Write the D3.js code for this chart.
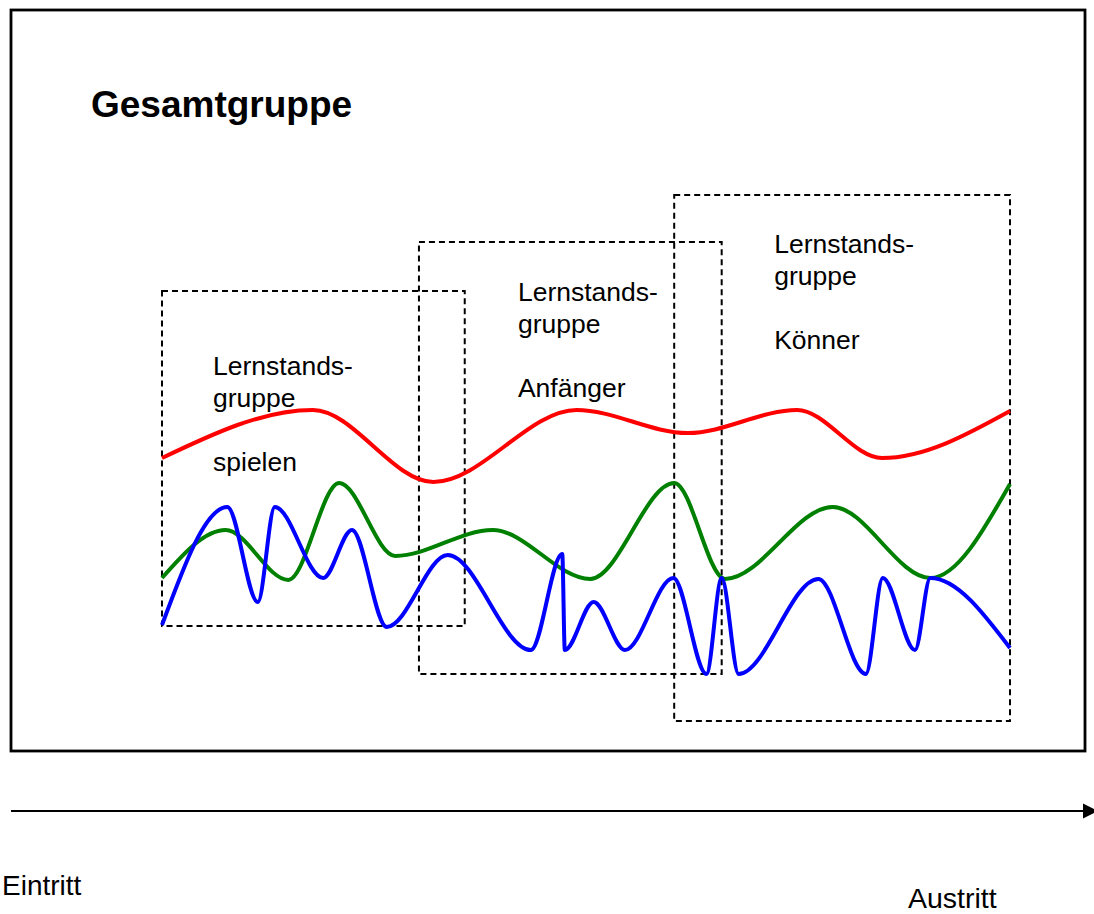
<!DOCTYPE html>
<html>
<head>
<meta charset="utf-8">
<script src="https://cdn.jsdelivr.net/npm/d3@7"></script>
<style>
  body { margin: 0; background: #fff; }
  text { font-family: "Liberation Sans", Arial, sans-serif; }
</style>
</head>
<body>
<script>
// time axis runs 0 (Eintritt) .. 100 (Austritt), level is an abstract learning level

var redT   = [0, 17.8, 32.0, 48.9, 62.0, 74.9, 84.9, 100];
var redL   = [85, 100, 77.5, 100, 92.8, 100, 85, 99.7];

var greenT = [0, 7.5, 14.9, 20.9, 27.5, 39.0, 50.5, 60.4, 66.4, 79.1, 90.6, 100];
var greenL = [47.5, 62.5, 46.9, 77.2, 54.4, 62.5, 47.2, 77.2, 47.2, 69.7, 47.5, 76.9];

var blueT  = [0, 7.7, 11.3, 13.3, 19.0, 22.4, 26.5, 33.7, 43.5, 47.2, 47.5, 50.9, 54.6,
              60.3, 64.2, 66.0, 68.0, 77.4, 83.0, 85.0, 88.8, 90.6, 100];
var blueL  = [32.8, 69.7, 40, 69.7, 47.5, 62.5, 32.2, 54.7, 25, 55, 25, 40, 25,
              47.5, 17.5, 47.5, 17.5, 47.2, 17.5, 47.5, 25, 47.5, 25.6];

// the three Lernstandsgruppen, spanning time and level
var groupNames  = ["spielen", "Anfänger", "Könner"];
var groupStart  = [0, 30.3, 60.4];
var groupEnd    = [35.7, 66.0, 100];
var groupTop    = [137.2, 152.5, 167.2];
var groupBottom = [32.5, 17.5, 2.8];

var width = 1094, height = 914;

var svg = d3.select("body").append("svg")
            .attr("width", width)
            .attr("height", height);

var x = d3.scaleLinear().domain([0, 100]).range([162, 1010]);
var y = d3.scaleLinear().domain([0, 100]).range([730, 410]);

// outer frame "Gesamtgruppe"
svg.append("rect")
   .attr("x", 11).attr("y", 10)
   .attr("width", 1074).attr("height", 741)
   .style("fill", "none")
   .style("stroke", "#000")
   .style("stroke-width", 2.8);

svg.append("text")
   .attr("x", 91).attr("y", 117)
   .style("font-size", "37px")
   .style("font-weight", "bold")
   .text("Gesamtgruppe");

// dashed group boxes
var groups = groupNames.map(function(n, i){
  return {name: n, t0: groupStart[i], t1: groupEnd[i], top: groupTop[i], bottom: groupBottom[i]};
});

svg.selectAll("rect.group")
   .data(groups)
   .enter().append("rect")
   .attr("class", "group")
   .attr("x", function(d){ return x(d.t0); })
   .attr("y", function(d){ return y(d.top); })
   .attr("width", function(d){ return x(d.t1) - x(d.t0); })
   .attr("height", function(d){ return y(d.bottom) - y(d.top); })
   .style("fill", "none")
   .style("stroke", "#000")
   .style("stroke-width", 2)
   .style("stroke-dasharray", "6,4");

// label anchor offsets from the box corner (layout only)
var labelDx = [51, 99, 100];
var labelDy = [84, 59, 58];

var lbl = svg.selectAll("g.lbl")
   .data(groups)
   .enter().append("g")
   .attr("class", "lbl")
   .attr("transform", function(d, i){
     return "translate(" + (x(d.t0) + labelDx[i]) + "," + (y(d.top) + labelDy[i]) + ")";
   });

lbl.append("text").attr("y", 0).style("font-size", "26.5px").text("Lernstands-");
lbl.append("text").attr("y", 32).style("font-size", "26.5px").text("gruppe");
lbl.append("text").attr("y", 96).style("font-size", "26.5px").text(function(d){ return d.name; });

// curves
var line = d3.line()
             .x(function(d){ return x(d[0]); })
             .y(function(d){ return y(d[1]); })
             .curve(d3.curveMonotoneX);

function pairs(t, l){ return t.map(function(v, i){ return [v, l[i]]; }); }

var series = [
  {pts: pairs(redT, redL), color: "#ff0000"},
  {pts: pairs(greenT, greenL), color: "#008000"},
  {pts: pairs(blueT, blueL), color: "#0000ff"}
];

svg.selectAll("path.curve")
   .data(series)
   .enter().append("path")
   .attr("class", "curve")
   .attr("d", function(d){ return line(d.pts); })
   .style("fill", "none")
   .style("stroke", function(d){ return d.color; })
   .style("stroke-width", 4)
   .style("stroke-linejoin", "round");

// time arrow
svg.append("line")
   .attr("x1", 11).attr("y1", 811)
   .attr("x2", 1084).attr("y2", 811)
   .style("stroke", "#000")
   .style("stroke-width", 1.8);

svg.append("path")
   .attr("d", "M1083,803.5L1098,811L1083,818.5Z")
   .style("fill", "#000");

svg.append("text")
   .attr("x", 2).attr("y", 895)
   .style("font-size", "28px")
   .text("Eintritt");

svg.append("text")
   .attr("x", 908).attr("y", 908)
   .style("font-size", "28.5px")
   .text("Austritt");
</script>
</body>
</html>
